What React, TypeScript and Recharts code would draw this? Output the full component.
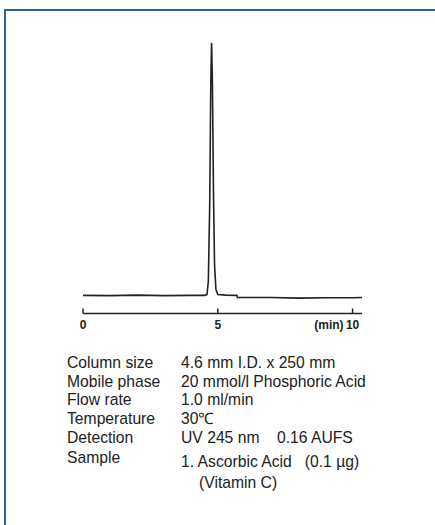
import React from 'react';
import { LineChart, Line, XAxis, YAxis } from 'recharts';

// retention time (min) and detector response (0 = axis, 100 = peak top)
const times = [0, 1, 2, 3, 4, 4.5, 4.6, 4.65, 4.7, 4.74, 4.77, 4.8, 4.84, 4.88, 4.93, 5.0, 5.3, 5.71, 5.73, 7, 8, 9, 10, 10.35];
const response = [6.7, 6.6, 6.8, 6.6, 6.7, 6.7, 7, 12, 40, 85, 100, 86, 45, 18, 9, 7, 6.8, 6.7, 5.9, 5.9, 5.7, 5.8, 5.8, 5.9];
const xTicks = [0, 5, 10];

const conditionLabels = ['Column size', 'Mobile phase', 'Flow rate', 'Temperature', 'Detection', 'Sample'];
const conditionValues = ['4.6 mm I.D. x 250 mm', '20 mmol/l Phosphoric Acid', '1.0 ml/min', '30\u2103', 'UV 245 nm    0.16 AUFS', '1. Ascorbic Acid   (0.1 \u00b5g)'];
const sampleNote = '(Vitamin C)';

const data = times.map((t, i) => ({ t, v: response[i] }));

const ink = '#222';
const font = '"Liberation Sans", Arial, sans-serif';

const TimeTick = (props: any) => {
  const { x, y, payload } = props;
  return (
    <g>
      {payload.value === 10 && (
        <text x={x - 9} y={y} dy={20} textAnchor="end" fontSize={12} fontWeight="bold" fill={ink} fontFamily={font}>
          (min)
        </text>
      )}
      <text x={x} y={y} dy={20} textAnchor="middle" fontSize={12} fontWeight="bold" fill={ink} fontFamily={font}>
        {payload.value}
      </text>
    </g>
  );
};

const labelTops = [353.7, 372.7, 391, 410, 429, 448.7];
const valueTops = [353.7, 372.7, 391, 410, 429, 453.3];

const textStyle: React.CSSProperties = {
  position: 'absolute',
  fontFamily: font,
  fontSize: 15.7,
  lineHeight: '18px',
  color: ink,
  whiteSpace: 'pre',
};

export default function App() {
  return (
    <div style={{ position: 'absolute', left: 0, top: 0, width: 435, height: 525, overflow: 'hidden', background: '#fff' }}>
      <div
        style={{
          position: 'absolute',
          left: 4,
          top: 9,
          width: 431,
          height: 516,
          borderLeft: '2px solid #2f5f9f',
          borderTop: '2px solid #2f5f9f',
          boxSizing: 'border-box',
        }}
      />
      <div style={{ position: 'absolute', left: 0, top: 0 }}>
        <LineChart width={435} height={340} data={data} margin={{ top: 43, right: 73, left: 83, bottom: 6.5 }}>
          <XAxis
            type="number"
            dataKey="t"
            domain={[0, 10.35]}
            ticks={xTicks}
            tickSize={-5}
            tickMargin={0}
            height={20}
            stroke={ink}
            strokeWidth={1.5}
            tick={<TimeTick />}
            interval={0}
          />
          <YAxis hide domain={[0, 100]} />
          <Line
            type="linear"
            dataKey="v"
            stroke={ink}
            strokeWidth={1.6}
            dot={false}
            isAnimationActive={false}
          />
        </LineChart>
      </div>
      {conditionLabels.map((label, i) => (
        <div key={label} style={{ ...textStyle, left: 67, top: labelTops[i] }}>
          {label}
        </div>
      ))}
      {conditionValues.map((value, i) => (
        <div key={value} style={{ ...textStyle, left: 181, top: valueTops[i] }}>
          {value}
        </div>
      ))}
      <div style={{ ...textStyle, left: 199, top: 473.7 }}>{sampleNote}</div>
    </div>
  );
}
